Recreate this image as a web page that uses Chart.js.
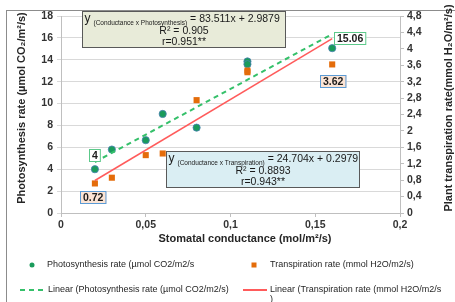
<!DOCTYPE html>
<html><head><meta charset="utf-8">
<script src="https://cdn.jsdelivr.net/npm/chart.js@4.4.1/dist/chart.umd.min.js"></script>
<style>html,body{margin:0;padding:0;background:#fff;}#wrap{width:455px;height:302px;position:relative;}</style>
</head><body><div id="wrap"><canvas id="c" width="455" height="302"></canvas></div>
<script>
// ---- data ----
const conductance = [0.02, 0.03, 0.05, 0.06, 0.08, 0.11, 0.11, 0.16];
const photosynthesis = [4, 5.8, 6.65, 9.05, 7.8, 13.85, 13.6, 15.06];
const transpiration = [0.72, 0.86, 1.41, 1.45, 2.75, 3.47, 3.43, 3.62];
const xTicks = [0, 0.05, 0.1, 0.15, 0.2];
const leftTicks = [0, 2, 4, 6, 8, 10, 12, 14, 16, 18];
const rightTicks = [0, 0.4, 0.8, 1.2, 1.6, 2, 2.4, 2.8, 3.2, 3.6, 4, 4.4, 4.8];
const photoFit = {slope: 83.511, intercept: 2.9879, r2: '0.905', r: '0.951**'};
const transpFit = {slope: 24.704, intercept: 0.2979, r2: '0.8893', r: '0.943**'};
const fitRange = [0.02, 0.16];
const seriesNames = [
  'Photosynthesis rate (µmol CO2/m2/s',
  'Transpiration rate (mmol H2O/m2/s)',
  'Linear (Photosynthesis rate (µmol CO2/m2/s)',
  'Linear (Transpiration rate (mmol H2O/m2/s)'
];
const axisTitles = {
  x: 'Stomatal conductance (mol/m²/s)',
  y: 'Photosynthesis rate (µmol CO₂/m²/s)',
  y1: 'Plant transpiration rate(mmol H₂O/m²/s)'
};

const FONT = '"Liberation Sans", Arial, sans-serif';
Chart.defaults.font.family = FONT;

const fmt = v => String(Math.round(v * 1000) / 1000).replace('.', ',');
const pts = (xs, ys) => xs.map((x, i) => ({x: x, y: ys[i]}));
const fitLine = f => fitRange.map(x => ({x: x, y: f.slope * x + f.intercept}));
const setTicks = arr => s => { s.ticks = arr.map(v => ({value: v})); };

// ---- plugins ----
const framePlugin = {
  id: 'frame',
  beforeDraw(chart) {
    const c = chart.ctx; c.save();
    c.strokeStyle = '#8c8c8c'; c.lineWidth = 1;
    c.strokeRect(6.5, 10.5, 470, 310);
    c.restore();
  }
};

const titlesPlugin = {
  id: 'titles',
  afterDraw(chart, args, o) {
    const c = chart.ctx; c.save();
    c.fillStyle = '#262626'; c.font = 'bold 11px ' + FONT;
    c.textAlign = 'center'; c.textBaseline = 'middle';
    c.fillText(axisTitles.x, o.x[0], o.x[1]);
    [['y', o.y], ['y1', o.y1]].forEach(([k, p]) => {
      c.save(); c.translate(p[0], p[1]); c.rotate(-Math.PI / 2);
      c.fillText(axisTitles[k], 0, 0); c.restore();
    });
    c.restore();
  }
};

const eqPlugin = {
  id: 'eqBoxes',
  afterDatasetsDraw(chart, args, o) {
    const c = chart.ctx;
    o.boxes.forEach(b => {
      const f = b.fit;
      c.save();
      c.fillStyle = b.fill; c.fillRect(b.x, b.y, b.w, b.h);
      c.strokeStyle = '#595959'; c.lineWidth = 1;
      c.strokeRect(b.x + 0.5, b.y + 0.5, b.w - 1, b.h - 1);
      c.fillStyle = '#1a1a1a'; c.textAlign = 'left'; c.textBaseline = 'alphabetic';
      let x = b.x + 2.5;
      c.font = '12px ' + FONT; c.fillText('y', x, b.y + 11); x += c.measureText('y').width + 3;
      const sub = '(Conductance x ' + b.name + ')';
      c.font = '6.5px ' + FONT; c.fillText(sub, x, b.y + 13.5); x += c.measureText(sub).width + 3;
      c.font = '10.5px ' + FONT;
      c.fillText('= ' + f.slope + 'x + ' + f.intercept, x, b.y + 11);
      c.textAlign = 'center';
      const cx = b.x + b.w / 2;
      c.fillText('R² = ' + f.r2, cx, b.y + 22.5);
      c.fillText('r=' + f.r, cx, b.y + 33.5);
      c.restore();
    });
  }
};

const labelPlugin = {
  id: 'pointLabels',
  afterDatasetsDraw(chart, args, o) {
    const c = chart.ctx;
    o.labels.forEach(l => {
      const meta = chart.getDatasetMeta(l.ds);
      const data = chart.data.datasets[l.ds].data;
      const idx = l.which === 'last' ? data.length - 1 : 0;
      const el = meta.data[idx];
      const txt = String(data[idx].y);
      c.save();
      c.font = 'bold 10.5px ' + FONT;
      const w = c.measureText(txt).width + 6, h = 13;
      const cx = el.x + l.dx, cy = el.y + l.dy;
      const x0 = Math.round(cx - w / 2), y0 = Math.round(cy - h / 2);
      c.fillStyle = l.fill; c.fillRect(x0, y0, w, h);
      c.strokeStyle = l.stroke; c.lineWidth = 1; c.strokeRect(x0 + 0.5, y0 + 0.5, w - 1, h - 1);
      c.fillStyle = '#1a1a1a'; c.textAlign = 'center'; c.textBaseline = 'middle';
      c.fillText(txt, x0 + w / 2, y0 + h / 2 + 0.5);
      c.restore();
    });
  }
};

const legendPlugin = {
  id: 'customLegend',
  afterDraw(chart, args, o) {
    const c = chart.ctx;
    o.items.forEach(it => {
      const ds = chart.data.datasets[it.ds];
      c.save();
      if (it.marker === 'circle') {
        c.fillStyle = ds.pointBackgroundColor;
        c.beginPath(); c.arc(it.mx, it.y, 2.5, 0, Math.PI * 2); c.fill();
      } else if (it.marker === 'rect') {
        c.fillStyle = ds.pointBackgroundColor; c.fillRect(it.mx - 2.5, it.y - 2.5, 5, 5);
      } else {
        c.strokeStyle = ds.borderColor; c.lineWidth = 2;
        c.setLineDash(ds.borderDash || []);
        c.beginPath(); c.moveTo(it.lx[0], it.y); c.lineTo(it.lx[1], it.y); c.stroke();
        c.setLineDash([]);
      }
      c.fillStyle = '#262626'; c.font = '9px ' + FONT;
      c.textAlign = 'left'; c.textBaseline = 'middle';
      // wrap by characters if needed
      const lines = []; let cur = '';
      for (const ch of ds.label) {
        if (c.measureText(cur + ch).width > it.maxW && cur) { lines.push(cur); cur = ch; }
        else cur += ch;
      }
      lines.push(cur);
      lines.forEach((ln, i) => c.fillText(ln, it.tx, it.y + i * 9.5));
      c.restore();
    });
  }
};

// ---- chart ----
new Chart(document.getElementById('c'), {
  type: 'scatter',
  data: {
    datasets: [
      {label: seriesNames[0], data: pts(conductance, photosynthesis), yAxisID: 'y',
       pointStyle: 'circle', pointRadius: 3.6, pointBackgroundColor: '#1a9b5b',
       pointBorderColor: '#4a80b4', pointBorderWidth: 0.8, order: 3},
      {label: seriesNames[1], data: pts(conductance, transpiration), yAxisID: 'y1',
       pointStyle: 'rect', pointRadius: 4.3, pointBackgroundColor: '#e46c0a',
       pointBorderColor: '#e46c0a', pointBorderWidth: 0, order: 2},
      {type: 'line', label: seriesNames[2], data: fitLine(photoFit), yAxisID: 'y',
       borderColor: '#35c06a', borderWidth: 2, borderDash: [5, 4], pointRadius: 0,
       fill: false, order: 1},
      {type: 'line', label: seriesNames[3], data: fitLine(transpFit), yAxisID: 'y1',
       borderColor: '#ff5b5b', borderWidth: 1.5, pointRadius: 0, fill: false, order: 0}
    ]
  },
  options: {
    responsive: false, animation: false, devicePixelRatio: 1,
    layout: {padding: {top: 16, left: 0, right: 0, bottom: 0}},
    plugins: {
      legend: {display: false}, tooltip: {enabled: false},
      titles: {x: [245, 239], y: [22, 108], y1: [449, 108]},
      eqBoxes: {boxes: [
        {x: 82, y: 11, w: 204, h: 37, fill: '#e8ebd9', name: 'Photosynthesis', fit: photoFit},
        {x: 166, y: 151, w: 194, h: 37, fill: '#daeef3', name: 'Transpiration', fit: transpFit}
      ]},
      pointLabels: {labels: [
        {ds: 0, which: 'first', dx: 0, dy: -14, fill: '#ffffff', stroke: '#5cc98a'},
        {ds: 0, which: 'last', dx: 18, dy: -10, fill: '#ffffff', stroke: '#5cc98a'},
        {ds: 1, which: 'first', dx: -2, dy: 14, fill: '#fbe4d5', stroke: '#5b9bd5'},
        {ds: 1, which: 'last', dx: 1, dy: 17, fill: '#fbe4d5', stroke: '#5b9bd5'}
      ]},
      customLegend: {items: [
        {ds: 0, marker: 'circle', mx: 32, tx: 47, y: 265, maxW: 200},
        {ds: 1, marker: 'rect', mx: 254, tx: 270, y: 265, maxW: 200},
        {ds: 2, marker: 'line', lx: [20, 43], tx: 48, y: 290, maxW: 190},
        {ds: 3, marker: 'line', lx: [243, 267], tx: 270, y: 290, maxW: 173}
      ]}
    },
    scales: {
      x: {type: 'linear', min: 0, max: 0.2,
          afterBuildTicks: setTicks(xTicks), afterFit: s => { s.height = 89; },
          grid: {drawOnChartArea: false, tickLength: 4, color: '#bfbfbf'},
          border: {color: '#bfbfbf'},
          ticks: {padding: 2, color: '#333', font: {size: 10.5, weight: 'bold'},
                  callback: v => fmt(v), maxRotation: 0, autoSkip: false}},
      y: {type: 'linear', position: 'left', min: 0, max: 18,
          afterBuildTicks: setTicks(leftTicks), afterFit: s => { s.width = 61; },
          grid: {color: '#d9d9d9', tickLength: 4},
          border: {color: '#bfbfbf'},
          ticks: {padding: 4, color: '#333', font: {size: 10.5, weight: 'bold'},
                  callback: v => fmt(v), autoSkip: false}},
      y1: {type: 'linear', position: 'right', min: 0, max: 4.8,
          afterBuildTicks: setTicks(rightTicks), afterFit: s => { s.width = 55; },
          grid: {drawOnChartArea: false, tickLength: 4, color: '#bfbfbf'},
          border: {color: '#bfbfbf'},
          ticks: {padding: 3, color: '#333', font: {size: 10.5, weight: 'bold'},
                  callback: v => fmt(v), autoSkip: false}}
    }
  },
  plugins: [framePlugin, titlesPlugin, eqPlugin, labelPlugin, legendPlugin]
});
</script></body></html>
